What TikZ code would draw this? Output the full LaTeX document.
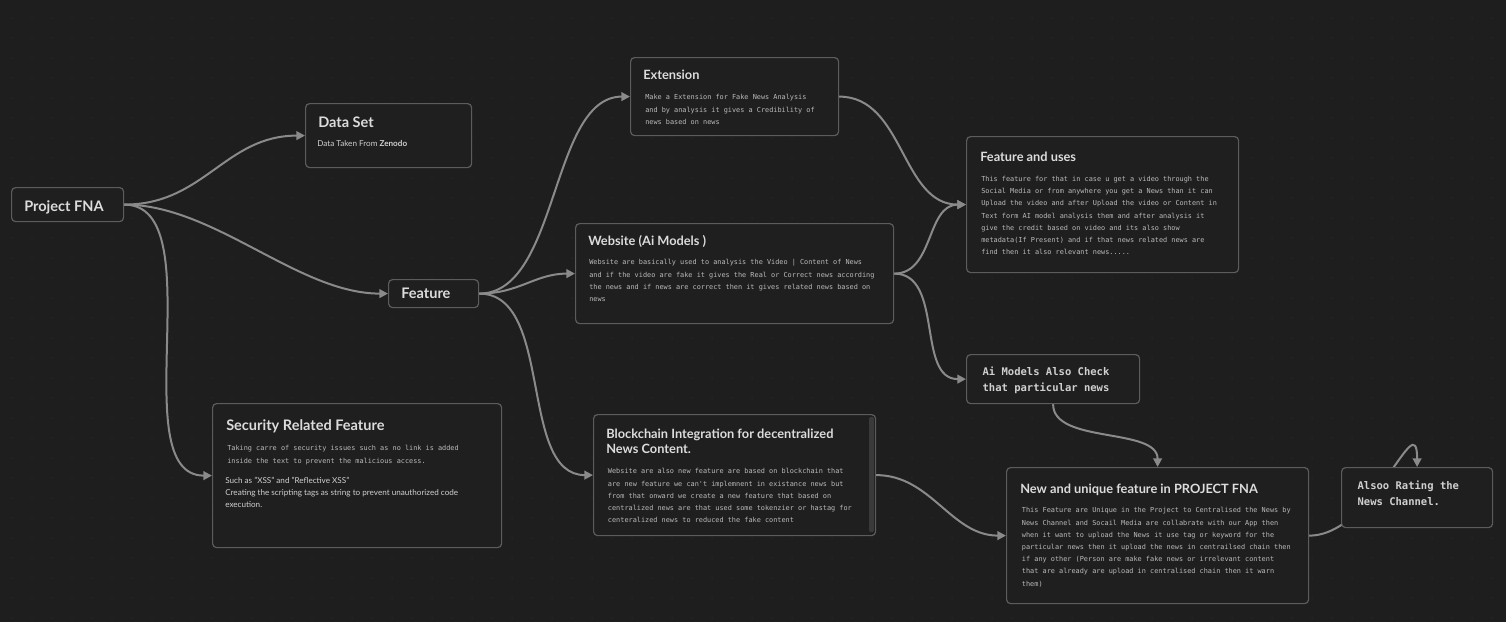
\documentclass[tikz,border=0pt]{standalone}
\usepackage{fontspec}
\setmainfont{Lato}
\newfontfamily\codefont{DejaVu Sans Mono}
\usetikzlibrary{arrows.meta}

\definecolor{canvasbg}{HTML}{1E1E1E}
\definecolor{dotcol}{HTML}{303030}
\definecolor{cardfill}{HTML}{1F1F1F}
\definecolor{cardline}{HTML}{5C5C5C}
\definecolor{linkcol}{HTML}{8A8A8A}
\definecolor{ttlcol}{HTML}{DCDCDC}
\definecolor{codecol}{HTML}{BABABA}
\definecolor{bodycol}{HTML}{D0D0D0}
\definecolor{scrollcol}{HTML}{3A3A3A}

\pgfdeclarelayer{dots}
\pgfdeclarelayer{edges}
\pgfsetlayers{dots,edges,main}

\tikzset{
  card/.style={draw=cardline, fill=cardfill, rounded corners=3pt, line width=0.9pt, anchor=north west, inner sep=0pt},
  ttl/.style={anchor=base west, inner sep=0pt, text=ttlcol, align=left, font=\fontsize{10.9}{11.25}\selectfont\bfseries},
  subttl/.style={ttl, font=\fontsize{9.6}{11.25}\selectfont\bfseries},
  body/.style={anchor=base west, inner sep=0pt, text=bodycol, align=left, font=\fontsize{6.1}{9}\selectfont},
  code/.style={anchor=north west, inner sep=0pt, text=codecol, align=left, font=\fontsize{5.15}{9.15}\selectfont\codefont},
  bigcode/.style={code, text=bodycol, font=\fontsize{7.9}{12}\selectfont\codefont\bfseries},
  link/.style={draw=linkcol, line width=1.5pt, -{Triangle[length=6.5pt,width=6.5pt]}},
}

\begin{document}
\begin{tikzpicture}[x=0.75pt, y=-0.75pt]
  \useasboundingbox (0,0) rectangle (1506,622);
  \begin{pgfonlayer}{dots}
    \fill[canvasbg] (0,0) rectangle (1506,622);
    \foreach \x in {12,32,...,1500}
      \foreach \y in {18,38,...,618}
        \fill[dotcol] (\x,\y) circle (0.55pt);
  \end{pgfonlayer}

  % boxes
  \node (project) [card, minimum width=84pt, minimum height=25.5pt] at (11,187) {};
  \node (dataset) [card, minimum width=124.5pt, minimum height=48pt] at (305,103) {};
  \node (feature) [card, minimum width=67.5pt, minimum height=21pt] at (388,279) {};
  \node (security) [card, minimum width=216.75pt, minimum height=108pt] at (212,403) {};
  \node (extension) [card, minimum width=156pt, minimum height=58.5pt] at (630,57) {};
  \node (website) [card, minimum width=238.5pt, minimum height=75pt] at (575,223) {};
  \node (chain) [card, minimum width=211.5pt, minimum height=90.75pt] at (593,414) {};
  \node (uses) [card, minimum width=204pt, minimum height=102pt] at (966,136) {};
  \node (aicheck) [card, minimum width=129.75pt, minimum height=36.75pt] at (966,354) {};
  \node (unique) [card, minimum width=226.5pt, minimum height=102pt] at (1006,467) {};
  \node (rating) [card, minimum width=113.25pt, minimum height=45pt] at (1341,467) {};
  \fill[scrollcol, rounded corners=1pt] (869,417) rectangle (874,532);

  % texts (multi-line nodes sit on their last baseline)
  \node (project-t) [ttl] at (24,211) {Project FNA};
  \node (feature-t) [ttl] at (401,298) {Feature};
  \node (dataset-t) [ttl] at (318,127) {Data Set};
  \node (dataset-b) [body] at (317,146.5) {Data Taken From \textbf{Zenodo}};
  \node (security-t) [ttl] at (226,430) {Security Related Feature};
  \node (security-c) [code] at (227,445.4) {Taking carre of security issues such as no link is added\\inside the text to prevent the malicious access.};
  \node (security-b) [body] at (225,507) {Such as "XSS" and "Reflective XSS"\\Creating the scripting tags as string to prevent unauthorized code\\execution.};
  \node (extension-t) [subttl] at (643,79) {Extension};
  \node (extension-c) [code] at (645,94.4) {Make a Extension for Fake News Analysis\\and by analysis it gives a Credibility of\\news based on news};
  \node (website-t) [subttl] at (588,245) {Website (Ai Models )};
  \node (website-c) [code] at (589,259.4) {Website are basically used to analysis the Video | Content of News\\and if the video are fake it gives the Real or Correct news according\\the news and if news are correct then it gives related news based on\\news};
  \node (chain-t) [subttl] at (606,453) {Blockchain Integration for decentralized\\News Content.};
  \node (chain-c) [code] at (607.7,468.4) {Website are also new feature are based on blockchain that\\are new feature we can't implemnent in existance news but\\from that onward we create a new feature that based on\\centralized news are that used some tokenzier or hastag for\\centeralized news to reduced the fake content};
  \node (uses-t) [subttl] at (980,161.5) {Feature and uses};
  \node (uses-c) [code] at (981,176) {This feature for that in case u get a video through the\\Social Media or from anywhere you get a News than it can\\Upload the video and after Upload the video or Content in\\Text form AI model analysis them and after analysis it\\give the credit based on video and its also show\\metadata(If Present) and if that news related news are\\find then it also relevant news.....};
  \node (aicheck-c) [bigcode] at (982.3,367) {Ai Models Also Check\\that particular news};
  \node (unique-t) [subttl] at (1020,493) {New and unique feature in PROJECT FNA};
  \node (unique-c) [code] at (1021.7,507.4) {This Feature are Unique in the Project to Centralised the News by\\News Channel and Socail Media are collabrate with our App then\\when it want to upload the News it use tag or keyword for the\\particular news then it upload the news in centrailsed chain then\\if any other (Person are make fake news or irrelevant content\\that are already are upload in centralised chain then it warn\\them)};
  \node (rating-c) [bigcode] at (1357.3,480.2) {Alsoo Rating the\\News Channel.};

  % connectors
  \begin{pgfonlayer}{edges}
    \draw[link] (project.east) .. controls +(80,0) and +(-80,0) .. (dataset.west);
    \draw[link] (project.east) .. controls +(90,0) and +(-90,0) .. (feature.west);
    \draw[link] (project.east) .. controls +(90,0) and +(-90,0) .. (security.west);
    \draw[link] (feature.east) .. controls +(80,0) and +(-80,0) .. (extension.west);
    \draw[link] (feature.east) .. controls +(40,0) and +(-40,0) .. (website.west);
    \draw[link] (feature.east) .. controls +(75,0) and +(-75,0) .. (chain.west);
    \draw[link] (extension.east) .. controls +(65,0) and +(-65,0) .. (uses.west);
    \draw[link] (website.east) .. controls +(40,0) and +(-40,0) .. (uses.west);
    \draw[link] (website.east) .. controls +(50,0) and +(-50,0) .. (aicheck.west);
    \draw[link] (aicheck.south) .. controls +(0,40) and +(0,-40) .. (unique.north);
    \draw[link] (chain.east) .. controls +(55,0) and +(-55,0) .. (unique.west);
    \draw[link] (unique.east) .. controls +(65,0) and +(0,-65) .. (rating.north);
  \end{pgfonlayer}
\end{tikzpicture}
\end{document}
